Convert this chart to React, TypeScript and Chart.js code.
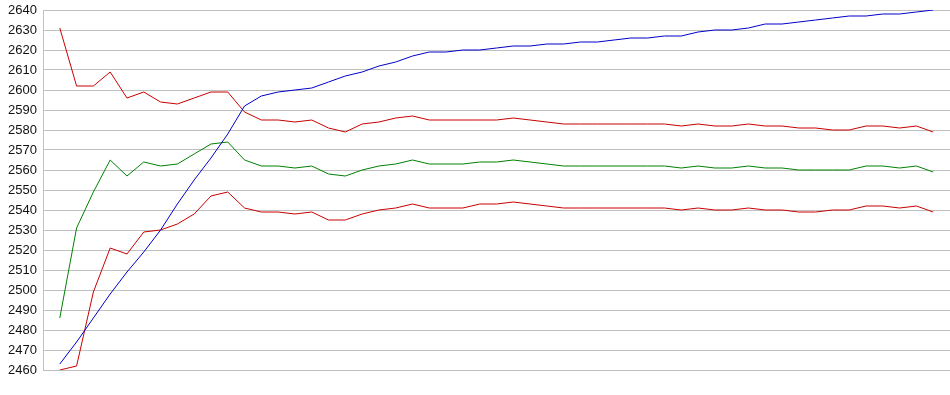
import React, { useEffect, useRef } from "react";
import { Chart, registerables } from "chart.js";

Chart.register(...registerables);

const yTicks = [2460, 2640];
const blueSeries = [
  2463, 2474, 2486, 2498, 2509, 2519, 2530, 2543, 2555, 2566, 2578, 2592, 2597, 2599, 2600, 2601,
  2604, 2607, 2609, 2612, 2614, 2617, 2619, 2619, 2620, 2620, 2621, 2622, 2622, 2623, 2623, 2624,
  2624, 2625, 2626, 2626, 2627, 2627, 2629, 2630, 2630, 2631, 2633, 2633, 2634, 2635, 2636, 2637,
  2637, 2638, 2638, 2639, 2640,
];
const upperRed = [
  2631, 2602, 2602, 2609, 2596, 2599, 2594, 2593, 2596, 2599, 2599, 2589, 2585, 2585, 2584, 2585,
  2581, 2579, 2583, 2584, 2586, 2587, 2585, 2585, 2585, 2585, 2585, 2586, 2585, 2584, 2583, 2583,
  2583, 2583, 2583, 2583, 2583, 2582, 2583, 2582, 2582, 2583, 2582, 2582, 2581, 2581, 2580, 2580,
  2582, 2582, 2581, 2582, 2579,
];
const greenSeries = [
  2486, 2531, 2549, 2565, 2557, 2564, 2562, 2563, 2568, 2573, 2574, 2565, 2562, 2562, 2561, 2562,
  2558, 2557, 2560, 2562, 2563, 2565, 2563, 2563, 2563, 2564, 2564, 2565, 2564, 2563, 2562, 2562,
  2562, 2562, 2562, 2562, 2562, 2561, 2562, 2561, 2561, 2562, 2561, 2561, 2560, 2560, 2560, 2560,
  2562, 2562, 2561, 2562, 2559,
];
const lowerRed = [
  2460, 2462, 2499, 2521, 2518, 2529, 2530, 2533, 2538, 2547, 2549, 2541, 2539, 2539, 2538, 2539,
  2535, 2535, 2538, 2540, 2541, 2543, 2541, 2541, 2541, 2543, 2543, 2544, 2543, 2542, 2541, 2541,
  2541, 2541, 2541, 2541, 2541, 2540, 2541, 2540, 2540, 2541, 2540, 2540, 2539, 2539, 2540, 2540,
  2542, 2542, 2541, 2542, 2539,
];

const toPoints = (arr: number[]) => arr.map((v, i) => ({ x: i, y: v }));

export default function App() {
  const ref = useRef<HTMLCanvasElement | null>(null);
  useEffect(() => {
    if (!ref.current) return;
    const mk = (data: number[], color: string) => ({
      data: toPoints(data),
      borderColor: color,
      backgroundColor: color,
      borderWidth: 1,
      pointRadius: 0,
      tension: 0,
      fill: false,
    });
    const chart = new Chart(ref.current, {
      type: "line",
      data: {
        datasets: [
          mk(blueSeries, "#0000c8"),
          mk(upperRed, "#c80000"),
          mk(greenSeries, "#008000"),
          mk(lowerRed, "#c80000"),
        ],
      },
      options: {
        animation: false,
        responsive: false,
        maintainAspectRatio: false,
        layout: { padding: { top: 10, bottom: 25, right: 0, left: 0 } },
        plugins: { legend: { display: false }, tooltip: { enabled: false } },
        scales: {
          x: {
            type: "linear",
            min: -1,
            max: blueSeries.length,
            display: false,
          },
          y: {
            min: yTicks[0],
            max: yTicks[1],
            afterFit: (s: any) => {
              s.width = 43;
              s.paddingTop = 0;
              s.paddingBottom = 0;
            },
            ticks: {
              stepSize: 10,
              padding: 6,
              color: "#111",
              font: { family: "Liberation Sans, Arial, sans-serif", size: 13 },
              callback: (v: any) => String(v),
            },
            grid: { color: "#c0c0c0", drawTicks: false, lineWidth: 1 },
            border: { color: "#c0c0c0" },
          },
        },
      },
    });
    return () => chart.destroy();
  }, []);
  return (
    <div style={{ position: "absolute", left: 0, top: 0, width: 950, height: 395, background: "#fff" }}>
      <canvas ref={ref} width={950} height={395} style={{ width: 950, height: 395 }} />
    </div>
  );
}
